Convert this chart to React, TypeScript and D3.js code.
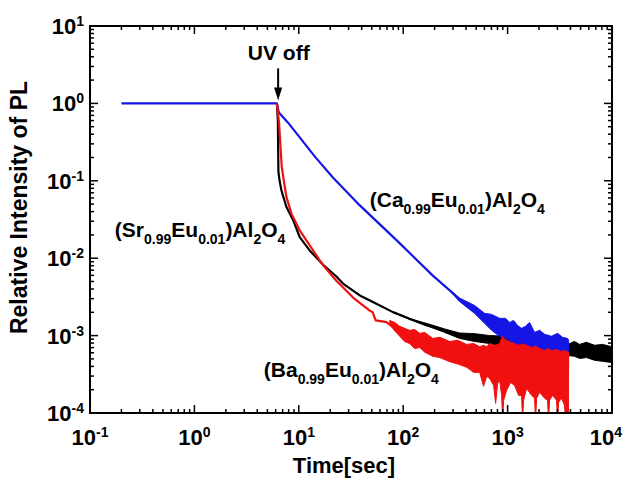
import { useEffect, useRef } from "react";
import * as d3 from "d3";

const WIDTH = 624;
const HEIGHT = 482;

const X_TICKS = [0.1, 1, 10, 100, 1000, 10000];
const X_TICK_EXP = ["-1", "0", "1", "2", "3", "4"];
const Y_TICKS = [1e-4, 1e-3, 1e-2, 1e-1, 1, 10];
const Y_TICK_EXP = ["-4", "-3", "-2", "-1", "0", "1"];

const UV_OFF_TIME = 6.2;

// (Ca0.99Eu0.01)Al2O4 - blue
const caTime = [0.2, 6.17, 6.44, 7.85, 10.2, 14.2, 21.1, 38.4, 86.7, 191, 279, 405, 718, 1045, 1624, 2523, 3750];
const caIntensity = [1, 1, 0.765, 0.568, 0.364, 0.207, 0.111, 0.0481, 0.017, 0.006, 0.00384, 0.00245, 0.00135, 0.00098, 0.00082, 0.0007, 0.00059];
const caNoiseTime = [279, 347, 483, 602, 703, 838, 957, 1045, 1141, 1247, 1361, 1486, 1624, 1813, 2024, 2260, 2634, 3009, 3359, 3750, 3837];
const caNoiseHigh = [3.9e-3, 3.05e-3, 2.45e-3, 1.94e-3, 1.88e-3, 1.67e-3, 1.67e-3, 1.48e-3, 1.57e-3, 1.35e-3, 1.24e-3, 1.32e-3, 1.48e-3, 1.1e-3, 1.17e-3, 1.04e-3, 9.8e-4, 1.07e-3, 9.5e-4, 9.2e-4, 8.7e-4];
const caNoiseLow = [3.8e-3, 2.75e-3, 1.94e-3, 1.44e-3, 1.17e-3, 9.8e-4, 9.2e-4, 8.7e-4, 7.2e-4, 6.4e-4, 6.8e-4, 6.1e-4, 6.1e-4, 5.2e-4, 5.4e-4, 4.65e-4, 4.37e-4, 4.0e-4, 3.9e-4, 3.55e-4, 4.0e-4];

// (Sr0.99Eu0.01)Al2O4 - black
const srTime = [6.17, 6.3, 6.38, 6.55, 6.82, 7.62, 8.83, 10.2, 12.7, 17.1, 22.9, 26.5, 38.4, 55.4, 79.8, 115, 167, 240, 347, 673, 1045, 2024, 3917, 6810, 9890];
const srIntensity = [1, 0.6, 0.13, 0.1, 0.075, 0.0457, 0.031, 0.0187, 0.0126, 0.0082, 0.0058, 0.0047, 0.0033, 0.00258, 0.00201, 0.00165, 0.00136, 0.00117, 0.001, 8.9e-4, 8.3e-4, 7.7e-4, 6.6e-4, 6.0e-4, 5.7e-4];
const srNoiseTime = [80, 115, 179, 249, 347, 483, 673, 1045, 2024, 3917, 4375, 4890, 5700, 6810, 8110, 9890];
const srNoiseHigh = [2.02e-3, 1.66e-3, 1.4e-3, 1.22e-3, 1.08e-3, 1.06e-3, 1.0e-3, 9.8e-4, 8.9e-4, 7.9e-4, 8.4e-4, 7.7e-4, 8.2e-4, 7.5e-4, 7.7e-4, 7.2e-4];
const srNoiseLow = [2.0e-3, 1.62e-3, 1.3e-3, 1.1e-3, 9.2e-4, 8.4e-4, 7.9e-4, 7.0e-4, 6.6e-4, 5.5e-4, 5.4e-4, 5.07e-4, 5.2e-4, 4.8e-4, 4.65e-4, 4.5e-4];

// (Ba0.99Eu0.01)Al2O4 - red
const baTime = [6.17, 6.48, 6.68, 6.87, 7.18, 7.62, 8.51, 10.2, 13.7, 17.1, 22.9, 33.1, 47.8, 51.0, 54.5, 69, 79.8, 115, 192, 405, 838, 1624, 3837];
const baIntensity = [1, 0.546, 0.273, 0.15, 0.101, 0.0615, 0.0376, 0.0229, 0.0126, 0.0081, 0.0051, 0.0031, 0.0021, 0.002, 0.00157, 0.00149, 0.00129, 9.5e-4, 7e-4, 5.5e-4, 4.8e-4, 4.2e-4, 4e-4];
const baNoiseTime = [74.3, 83, 92.6, 103, 115, 129, 144, 161, 192, 224, 279, 333, 405, 473, 540, 589, 630, 673, 735, 768, 802, 838, 877, 896, 916, 978, 1069, 1167, 1274, 1361, 1392, 1422, 1520, 1698, 1813, 1853, 1896, 2024, 2260, 2413, 2467, 2523, 2697, 2943, 3009, 3076, 3286, 3511, 3589, 3669, 3837];
const baNoiseHigh = [1.57e-3, 1.48e-3, 1.32e-3, 1.24e-3, 1.17e-3, 1.2e-3, 1.07e-3, 1.1e-3, 9.2e-4, 9.5e-4, 8.4e-4, 8.7e-4, 7.7e-4, 7.9e-4, 7.2e-4, 7.5e-4, 7.2e-4, 7.9e-4, 7.5e-4, 7.5e-4, 7.7e-4, 7.9e-4, 9.2e-4, 9.8e-4, 9.2e-4, 8.7e-4, 8.2e-4, 7.9e-4, 7.5e-4, 7.7e-4, 7.9e-4, 7.7e-4, 7.5e-4, 7.0e-4, 7.2e-4, 7.5e-4, 7.2e-4, 6.8e-4, 6.4e-4, 6.8e-4, 6.8e-4, 6.6e-4, 6.4e-4, 6.6e-4, 6.6e-4, 6.4e-4, 6.25e-4, 6.4e-4, 6.4e-4, 6.25e-4, 6.1e-4];
const baNoiseLow = [1.4e-3, 1.15e-3, 9.8e-4, 8.4e-4, 7.9e-4, 6.8e-4, 7.0e-4, 6.1e-4, 5.4e-4, 5.2e-4, 4.6e-4, 4.3e-4, 3.9e-4, 3.35e-4, 3.35e-4, 2.21e-4, 2.97e-4, 2.8e-4, 2.27e-4, 1.33e-4, 2.41e-4, 2.64e-4, 1.69e-4, 8e-5, 1.46e-4, 1.96e-4, 2.48e-4, 2.27e-4, 1.69e-4, 1.69e-4, 8e-5, 1.46e-4, 2.08e-4, 1.69e-4, 1.55e-4, 8e-5, 1.55e-4, 1.85e-4, 1.55e-4, 1.46e-4, 8e-5, 1.46e-4, 1.69e-4, 1.46e-4, 8e-5, 1.37e-4, 1.55e-4, 1.25e-4, 8e-5, 1.08e-4, 8e-5];

// label anchors in data units [time, intensity]
const SR_LABEL_AT = [0.173, 0.0186];
const CA_LABEL_AT = [47.8, 0.0453];
const BA_LABEL_AT = [4.62, 2.88e-4];
const UV_LABEL_AT = [3.25, 3.6];

const SR_LABEL: [string, boolean][] = [["(Sr", false], ["0.99", true], ["Eu", false], ["0.01", true], [")Al", false], ["2", true], ["O", false], ["4", true]];
const CA_LABEL: [string, boolean][] = [["(Ca", false], ["0.99", true], ["Eu", false], ["0.01", true], [")Al", false], ["2", true], ["O", false], ["4", true]];
const BA_LABEL: [string, boolean][] = [["(Ba", false], ["0.99", true], ["Eu", false], ["0.01", true], [")Al", false], ["2", true], ["O", false], ["4", true]];

const FONT = "'Liberation Sans', Arial, Helvetica, sans-serif";

export default function App() {
  const svgRef = useRef<SVGSVGElement>(null);

  useEffect(() => {
    const margin = { top: 26, right: 12, bottom: 69, left: 90 };
    const innerW = WIDTH - margin.left - margin.right;
    const innerH = HEIGHT - margin.top - margin.bottom;

    const svg = d3.select(svgRef.current);
    svg.selectAll("*").remove();

    const x = d3.scaleLog().domain([0.1, 1e4]).range([0, innerW]);
    const y = d3.scaleLog().domain([1e-4, 10]).range([innerH, 0]);

    svg.append("defs").append("clipPath").attr("id", "plot-clip")
      .append("rect").attr("width", innerW).attr("height", innerH);

    const g = svg.append("g").attr("transform", `translate(${margin.left},${margin.top})`);
    const plot = g.append("g").attr("clip-path", "url(#plot-clip)");

    const line = d3.line<[number, number]>()
      .x(d => x(d[0]))
      .y(d => y(d[1]));

    const band = d3.area<[number, number, number]>()
      .x(d => x(d[0]))
      .y0(d => y(d[1]))
      .y1(d => y(d[2]));

    function drawSeries(time: number[], vals: number[], nt: number[], lo: number[], hi: number[], color: string) {
      const pts = time.map((t, i) => [t, vals[i]] as [number, number]);
      const bandPts = nt.map((t, i) => [t, lo[i], hi[i]] as [number, number, number]);
      plot.append("path")
        .datum(bandPts)
        .attr("d", band)
        .attr("fill", color)
        .attr("stroke", color)
        .attr("stroke-width", 1)
        .attr("stroke-linejoin", "round");
      plot.append("path")
        .datum(pts)
        .attr("d", line)
        .attr("fill", "none")
        .attr("stroke", color)
        .attr("stroke-width", 2.2)
        .attr("stroke-linejoin", "round");
    }

    drawSeries(srTime, srIntensity, srNoiseTime, srNoiseLow, srNoiseHigh, "#000000");
    drawSeries(caTime, caIntensity, caNoiseTime, caNoiseLow, caNoiseHigh, "#1515e6");
    drawSeries(baTime, baIntensity, baNoiseTime, baNoiseLow, baNoiseHigh, "#f01010");

    // frame
    g.append("rect")
      .attr("width", innerW).attr("height", innerH)
      .attr("fill", "none").attr("stroke", "#000").attr("stroke-width", 2);

    // ticks (inward, all sides)
    const ticksG = g.append("g").attr("stroke", "#000").attr("stroke-width", 1.5);
    const minorX: number[] = [];
    for (let e = -1; e < 4; e++) for (let k = 2; k <= 9; k++) minorX.push(k * Math.pow(10, e));
    const minorY: number[] = [];
    for (let e = -4; e < 1; e++) for (let k = 2; k <= 9; k++) minorY.push(k * Math.pow(10, e));

    X_TICKS.forEach(t => {
      ticksG.append("line").attr("x1", x(t)).attr("x2", x(t)).attr("y1", innerH).attr("y2", innerH - 8);
      ticksG.append("line").attr("x1", x(t)).attr("x2", x(t)).attr("y1", 0).attr("y2", 8);
    });
    minorX.forEach(t => {
      ticksG.append("line").attr("x1", x(t)).attr("x2", x(t)).attr("y1", innerH).attr("y2", innerH - 4);
      ticksG.append("line").attr("x1", x(t)).attr("x2", x(t)).attr("y1", 0).attr("y2", 4);
    });
    Y_TICKS.forEach(v => {
      ticksG.append("line").attr("x1", 0).attr("x2", 8).attr("y1", y(v)).attr("y2", y(v));
      ticksG.append("line").attr("x1", innerW).attr("x2", innerW - 8).attr("y1", y(v)).attr("y2", y(v));
    });
    minorY.forEach(v => {
      ticksG.append("line").attr("x1", 0).attr("x2", 4).attr("y1", y(v)).attr("y2", y(v));
      ticksG.append("line").attr("x1", innerW).attr("x2", innerW - 4).attr("y1", y(v)).attr("y2", y(v));
    });

    // tick labels (last one kept inside the page)
    X_TICKS.forEach((t, i) => {
      const cx = Math.min(x(t), WIDTH - margin.left - 18);
      const txt = g.append("text")
        .attr("x", cx).attr("y", innerH + 32)
        .attr("text-anchor", "middle")
        .style("font-family", FONT).style("font-weight", "bold").style("font-size", "22px");
      txt.append("tspan").text("10");
      txt.append("tspan").attr("dy", -8).style("font-size", "14px").text(X_TICK_EXP[i]);
    });
    Y_TICKS.forEach((v, i) => {
      const txt = g.append("text")
        .attr("x", -6).attr("y", y(v) + 8)
        .attr("text-anchor", "end")
        .style("font-family", FONT).style("font-weight", "bold").style("font-size", "22px");
      txt.append("tspan").text("10");
      txt.append("tspan").attr("dy", -8).style("font-size", "14px").text(Y_TICK_EXP[i]);
    });

    // axis titles
    svg.append("text")
      .attr("transform", `translate(27,${margin.top + innerH / 2 - 12}) rotate(-90)`)
      .attr("text-anchor", "middle")
      .style("font-family", FONT).style("font-weight", "bold").style("font-size", "23px")
      .text("Relative Intensity of PL");
    svg.append("text")
      .attr("x", margin.left + innerW / 2 - 7).attr("y", HEIGHT - 9)
      .attr("text-anchor", "middle")
      .style("font-family", FONT).style("font-weight", "bold").style("font-size", "22px")
      .text("Time[sec]");

    // series labels with subscripts
    function formula(at: number[], parts: [string, boolean][]) {
      const txt = g.append("text")
        .attr("x", x(at[0])).attr("y", y(at[1]))
        .style("font-family", FONT).style("font-weight", "bold").style("font-size", "21px");
      let down = false;
      parts.forEach(([s, sub]) => {
        const ts = txt.append("tspan").text(s);
        if (sub && !down) { ts.attr("dy", 7).style("font-size", "14px"); down = true; }
        else if (sub) ts.style("font-size", "14px");
        else if (down) { ts.attr("dy", -7); down = false; }
      });
    }
    formula(SR_LABEL_AT, SR_LABEL);
    formula(CA_LABEL_AT, CA_LABEL);
    formula(BA_LABEL_AT, BA_LABEL);

    // UV off annotation
    g.append("text")
      .attr("x", x(UV_LABEL_AT[0])).attr("y", y(UV_LABEL_AT[1]))
      .style("font-family", FONT).style("font-weight", "bold").style("font-size", "21px")
      .text("UV off");
    const ax = x(UV_OFF_TIME) + 1;
    const tipY = y(1) - 3;
    g.append("line")
      .attr("x1", ax).attr("x2", ax).attr("y1", tipY - 32).attr("y2", tipY - 8)
      .attr("stroke", "#000").attr("stroke-width", 2);
    g.append("path")
      .attr("d", `M${ax - 4},${tipY - 13} L${ax + 4},${tipY - 13} L${ax},${tipY} Z`)
      .attr("fill", "#000");
  }, []);

  return (
    <svg
      ref={svgRef}
      width={WIDTH}
      height={HEIGHT}
      style={{ position: "absolute", left: 0, top: 0, background: "#fff" }}
    />
  );
}
